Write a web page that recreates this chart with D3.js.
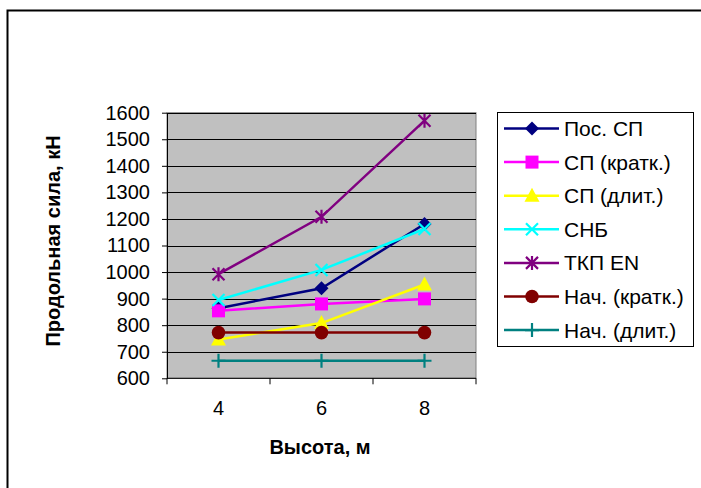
<!DOCTYPE html>
<html>
<head>
<meta charset="utf-8">
<script src="https://cdn.jsdelivr.net/npm/d3@7"></script>
<style>
  body { margin: 0; background: #fff; }
  text { font-family: "Liberation Sans", Arial, sans-serif; fill: #000; }
</style>
</head>
<body>
<svg class="chart" width="701" height="488"></svg>
<script>
// categories (height, m)
var heights = ["4", "6", "8"];

// series names and values, kN
var seriesNames = ["Пос. СП", "СП (кратк.)", "СП (длит.)", "СНБ", "ТКП EN", "Нач. (кратк.)", "Нач. (длит.)"];
var posSP     = [864, 939, 1181];
var spShort   = [854, 880, 899];
var spLong    = [746, 808, 953];
var snb       = [895, 1008, 1162];
var tkpEN     = [992, 1208, 1570];
var nachShort = [772, 772, 772];
var nachLong  = [666, 666, 666];
var yTicks = [600, 700, 800, 900, 1000, 1100, 1200, 1300, 1400, 1500, 1600];

var colors = ["#000080", "#ff00ff", "#ffff00", "#00ffff", "#800080", "#800000", "#008080"];
var symbols = ["diamond", "square", "triangle", "x", "asterisk", "circle", "plus"];

var seriesData = [posSP, spShort, spLong, snb, tkpEN, nachShort, nachLong].map(function (v, i) {
    return {name: seriesNames[i], values: v, color: colors[i], symbol: symbols[i]};
});

var svg = d3.select(".chart");

// outer frame (cut off on the right and bottom)
svg.append("rect")
    .attr("x", 7.5).attr("y", 10.5)
    .attr("width", 720).attr("height", 500)
    .attr("fill", "none").attr("stroke", "#000").attr("stroke-width", 2);

var plot = {left: 167, top: 112.7, right: 476, bottom: 378.3};

var x = d3.scaleBand().domain(heights).range([plot.left, plot.right]);
var y = d3.scaleLinear().domain([600, 1600]).range([plot.bottom, plot.top]);

// plot background
svg.append("rect")
    .attr("x", plot.left).attr("y", plot.top)
    .attr("width", plot.right - plot.left).attr("height", plot.bottom - plot.top)
    .attr("fill", "#c0c0c0").attr("stroke", "#808080").attr("stroke-width", 1);

// gridlines
svg.append("g").selectAll("line").data(yTicks.slice(1)).enter()
    .append("line")
    .attr("x1", plot.left).attr("x2", plot.right)
    .attr("y1", function (d) { return Math.round(y(d)) + 0.5; })
    .attr("y2", function (d) { return Math.round(y(d)) + 0.5; })
    .attr("stroke", "#000").attr("stroke-width", 1);

// y axis
var yAxis = svg.append("g")
    .attr("transform", "translate(" + plot.left + ",0)")
    .call(d3.axisLeft(y).tickValues(yTicks).tickFormat(d3.format("d"))
        .tickSize(5).tickPadding(12).tickSizeOuter(0));
yAxis.select(".domain").attr("stroke", "#000");
yAxis.selectAll("text").attr("font-size", 20).attr("font-family", "Liberation Sans");

// x axis: ticks at category boundaries
var xAxis = svg.append("g")
    .attr("transform", "translate(0," + plot.bottom + ")");
xAxis.append("line")
    .attr("x1", plot.left).attr("x2", plot.right)
    .attr("stroke", "#000");
var boundaries = heights.map(function (h) { return x(h); }).concat([x(heights[2]) + x.bandwidth()]);
xAxis.selectAll(".tk").data(boundaries).enter().append("line")
    .attr("x1", function (d) { return d; }).attr("x2", function (d) { return d; })
    .attr("y1", 0).attr("y2", 6)
    .attr("stroke", "#000");
xAxis.selectAll(".lbl").data(heights).enter().append("text")
    .attr("x", function (d) { return x(d) + x.bandwidth() / 2; })
    .attr("y", 37)
    .attr("text-anchor", "middle")
    .attr("font-size", 20)
    .text(function (d) { return d; });

// axis titles
svg.append("text")
    .attr("x", 320).attr("y", 454)
    .attr("text-anchor", "middle")
    .attr("font-size", 20).attr("font-weight", "bold")
    .text("Высота, м");
svg.append("text")
    .attr("transform", "translate(59.5,241) rotate(-90)")
    .attr("text-anchor", "middle")
    .attr("font-size", 20).attr("font-weight", "bold")
    .text("Продольная сила, кН");

// markers
function drawMarker(g, sym, color) {
    if (sym === "diamond") {
        g.append("path").attr("d", "M0,-7L7,0L0,7L-7,0Z").attr("fill", color);
    } else if (sym === "square") {
        g.append("rect").attr("x", -6.5).attr("y", -6.5).attr("width", 13).attr("height", 13).attr("fill", color);
    } else if (sym === "triangle") {
        g.append("path").attr("d", "M0,-8L7.5,6L-7.5,6Z").attr("fill", color);
    } else if (sym === "circle") {
        g.append("circle").attr("r", 6.8).attr("fill", color);
    } else if (sym === "x") {
        g.append("path").attr("d", "M-6,-6L6,6M-6,6L6,-6").attr("stroke", color).attr("stroke-width", 2.2);
    } else if (sym === "asterisk") {
        g.append("path").attr("d", "M-6,-6L6,6M-6,6L6,-6M0,-7L0,7").attr("stroke", color).attr("stroke-width", 2.2);
    } else if (sym === "plus") {
        g.append("path").attr("d", "M-7,0L7,0M0,-7L0,7").attr("stroke", color).attr("stroke-width", 2.2);
    }
}

var line = d3.line()
    .x(function (d, i) { return x(heights[i]) + x.bandwidth() / 2; })
    .y(function (d) { return y(d); });

var series = svg.selectAll(".series").data(seriesData).enter()
    .append("g").attr("class", "series");

series.append("path")
    .attr("d", function (d) { return line(d.values); })
    .attr("fill", "none")
    .attr("stroke", function (d) { return d.color; })
    .attr("stroke-width", 2.5);

series.each(function (s) {
    var g = d3.select(this);
    s.values.forEach(function (v, i) {
        var m = g.append("g")
            .attr("transform", "translate(" + (x(heights[i]) + x.bandwidth() / 2) + "," + y(v) + ")");
        drawMarker(m, s.symbol, s.color);
    });
});

// legend
var legend = svg.append("g");
legend.append("rect")
    .attr("x", 497.5).attr("y", 112.5)
    .attr("width", 196).attr("height", 234)
    .attr("fill", "#fff").attr("stroke", "#000").attr("stroke-width", 1);

var rows = legend.selectAll(".row").data(seriesData).enter()
    .append("g")
    .attr("transform", function (d, i) { return "translate(0," + (128.5 + i * 33.6) + ")"; });
rows.append("line")
    .attr("x1", 504).attr("x2", 559)
    .attr("stroke", function (d) { return d.color; })
    .attr("stroke-width", 2.5);
rows.each(function (s) {
    var m = d3.select(this).append("g").attr("transform", "translate(532,0)");
    drawMarker(m, s.symbol, s.color);
});
rows.append("text")
    .attr("x", 564).attr("y", 7.5)
    .attr("font-size", 21)
    .text(function (d) { return d.name; });
</script>
</body>
</html>
